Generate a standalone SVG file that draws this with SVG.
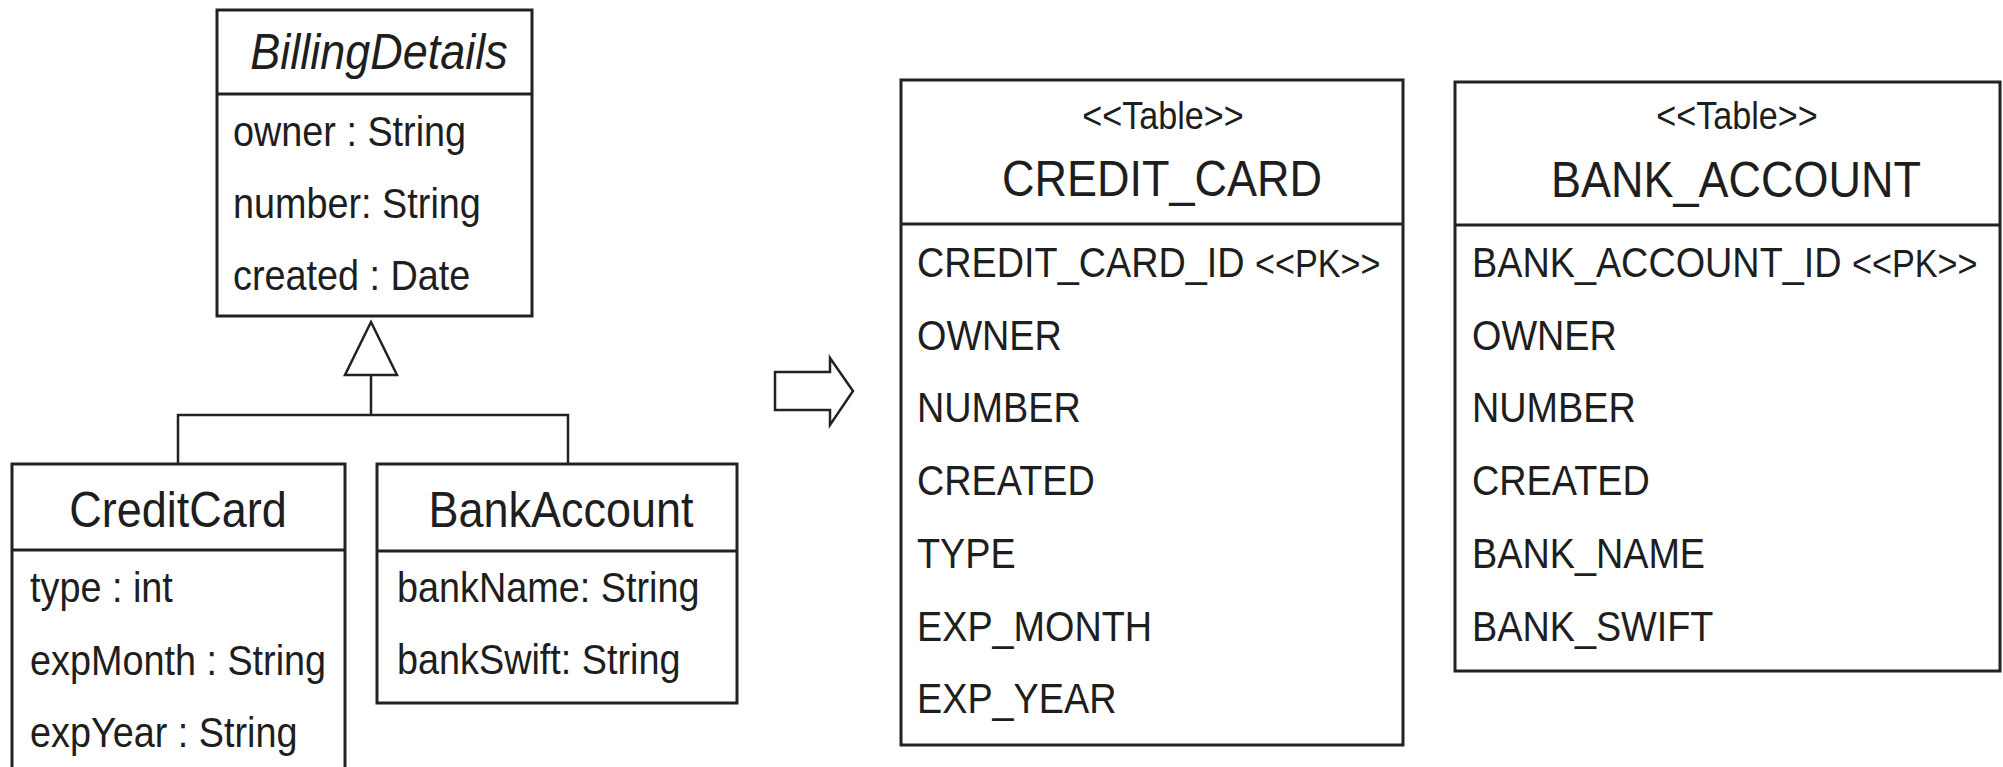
<svg xmlns="http://www.w3.org/2000/svg" width="2003" height="767" viewBox="0 0 2003 767">
  <style>
    .box { fill: #ffffff; stroke: #222222; stroke-width: 3; }
    .sep { stroke: #222222; stroke-width: 3; }
    .line { fill: none; stroke: #222222; stroke-width: 2.5; }
    text { font-family: "Liberation Sans", Arial, sans-serif; fill: #1e1e1e; }
    .title { font-size: 50px; text-anchor: middle; }
    .italic { font-style: italic; }
    .attr { font-size: 42px; }
    .stereo { font-size: 38px; }
    .stereo-c { font-size: 38px; text-anchor: middle; }
  </style>

  <!-- UML class: BillingDetails -->
  <g id="billing-details">
    <rect class="box" x="217" y="10" width="315" height="306"/>
    <line class="sep" x1="217" y1="94" x2="532" y2="94"/>
    <text class="title italic" transform="translate(379,69) scale(0.9,1)">BillingDetails</text>
    <text class="attr" transform="translate(233,146) scale(0.9,1)">owner : String</text>
    <text class="attr" transform="translate(233,218) scale(0.9,1)">number: String</text>
    <text class="attr" transform="translate(233,290) scale(0.9,1)">created : Date</text>
  </g>

  <!-- UML class: CreditCard (runs past the bottom edge) -->
  <g id="credit-card">
    <rect class="box" x="12" y="464" width="333" height="320"/>
    <line class="sep" x1="12" y1="550" x2="345" y2="550"/>
    <text class="title" transform="translate(178,527) scale(0.9,1)">CreditCard</text>
    <text class="attr" transform="translate(30,602) scale(0.9,1)">type : int</text>
    <text class="attr" transform="translate(30,675) scale(0.9,1)">expMonth : String</text>
    <text class="attr" transform="translate(30,747) scale(0.9,1)">expYear : String</text>
  </g>

  <!-- UML class: BankAccount -->
  <g id="bank-account">
    <rect class="box" x="377" y="464" width="360" height="239"/>
    <line class="sep" x1="377" y1="551" x2="737" y2="551"/>
    <text class="title" transform="translate(561,527) scale(0.9,1)">BankAccount</text>
    <text class="attr" transform="translate(397,602) scale(0.9,1)">bankName: String</text>
    <text class="attr" transform="translate(397,674) scale(0.9,1)">bankSwift: String</text>
  </g>

  <!-- Generalization tree and mapping arrow -->
  <g id="connectors">
    <polyline class="line" points="178,464 178,415 568,415 568,464"/>
    <line class="line" x1="371" y1="415" x2="371" y2="375"/>
    <polygon class="line" points="371,322 345,375 397,375" style="fill:#ffffff"/>
    <polygon class="line" points="775,372 830,372 830,358 853,391 830,425 830,410 775,410" style="fill:#ffffff"/>
  </g>

  <!-- Table: CREDIT_CARD -->
  <g id="table-credit-card">
    <rect class="box" x="901" y="80" width="502" height="665"/>
    <line class="sep" x1="901" y1="224" x2="1403" y2="224"/>
    <text class="stereo-c" transform="translate(1163,129) scale(0.9,1)">&lt;&lt;Table&gt;&gt;</text>
    <text class="title" transform="translate(1162,196) scale(0.9,1)">CREDIT_CARD</text>
    <text class="attr" transform="translate(917,277) scale(0.9,1)">CREDIT_CARD_ID <tspan class="stereo">&lt;&lt;PK&gt;&gt;</tspan></text>
    <text class="attr" transform="translate(917,350) scale(0.9,1)">OWNER</text>
    <text class="attr" transform="translate(917,422) scale(0.9,1)">NUMBER</text>
    <text class="attr" transform="translate(917,495) scale(0.9,1)">CREATED</text>
    <text class="attr" transform="translate(917,568) scale(0.9,1)">TYPE</text>
    <text class="attr" transform="translate(917,641) scale(0.9,1)">EXP_MONTH</text>
    <text class="attr" transform="translate(917,713) scale(0.9,1)">EXP_YEAR</text>
  </g>

  <!-- Table: BANK_ACCOUNT -->
  <g id="table-bank-account">
    <rect class="box" x="1455" y="82" width="545" height="589"/>
    <line class="sep" x1="1455" y1="225" x2="2000" y2="225"/>
    <text class="stereo-c" transform="translate(1737,129) scale(0.9,1)">&lt;&lt;Table&gt;&gt;</text>
    <text class="title" transform="translate(1736,197) scale(0.9,1)">BANK_ACCOUNT</text>
    <text class="attr" transform="translate(1472,277) scale(0.9,1)">BANK_ACCOUNT_ID <tspan class="stereo">&lt;&lt;PK&gt;&gt;</tspan></text>
    <text class="attr" transform="translate(1472,350) scale(0.9,1)">OWNER</text>
    <text class="attr" transform="translate(1472,422) scale(0.9,1)">NUMBER</text>
    <text class="attr" transform="translate(1472,495) scale(0.9,1)">CREATED</text>
    <text class="attr" transform="translate(1472,568) scale(0.9,1)">BANK_NAME</text>
    <text class="attr" transform="translate(1472,641) scale(0.9,1)">BANK_SWIFT</text>
  </g>
</svg>
